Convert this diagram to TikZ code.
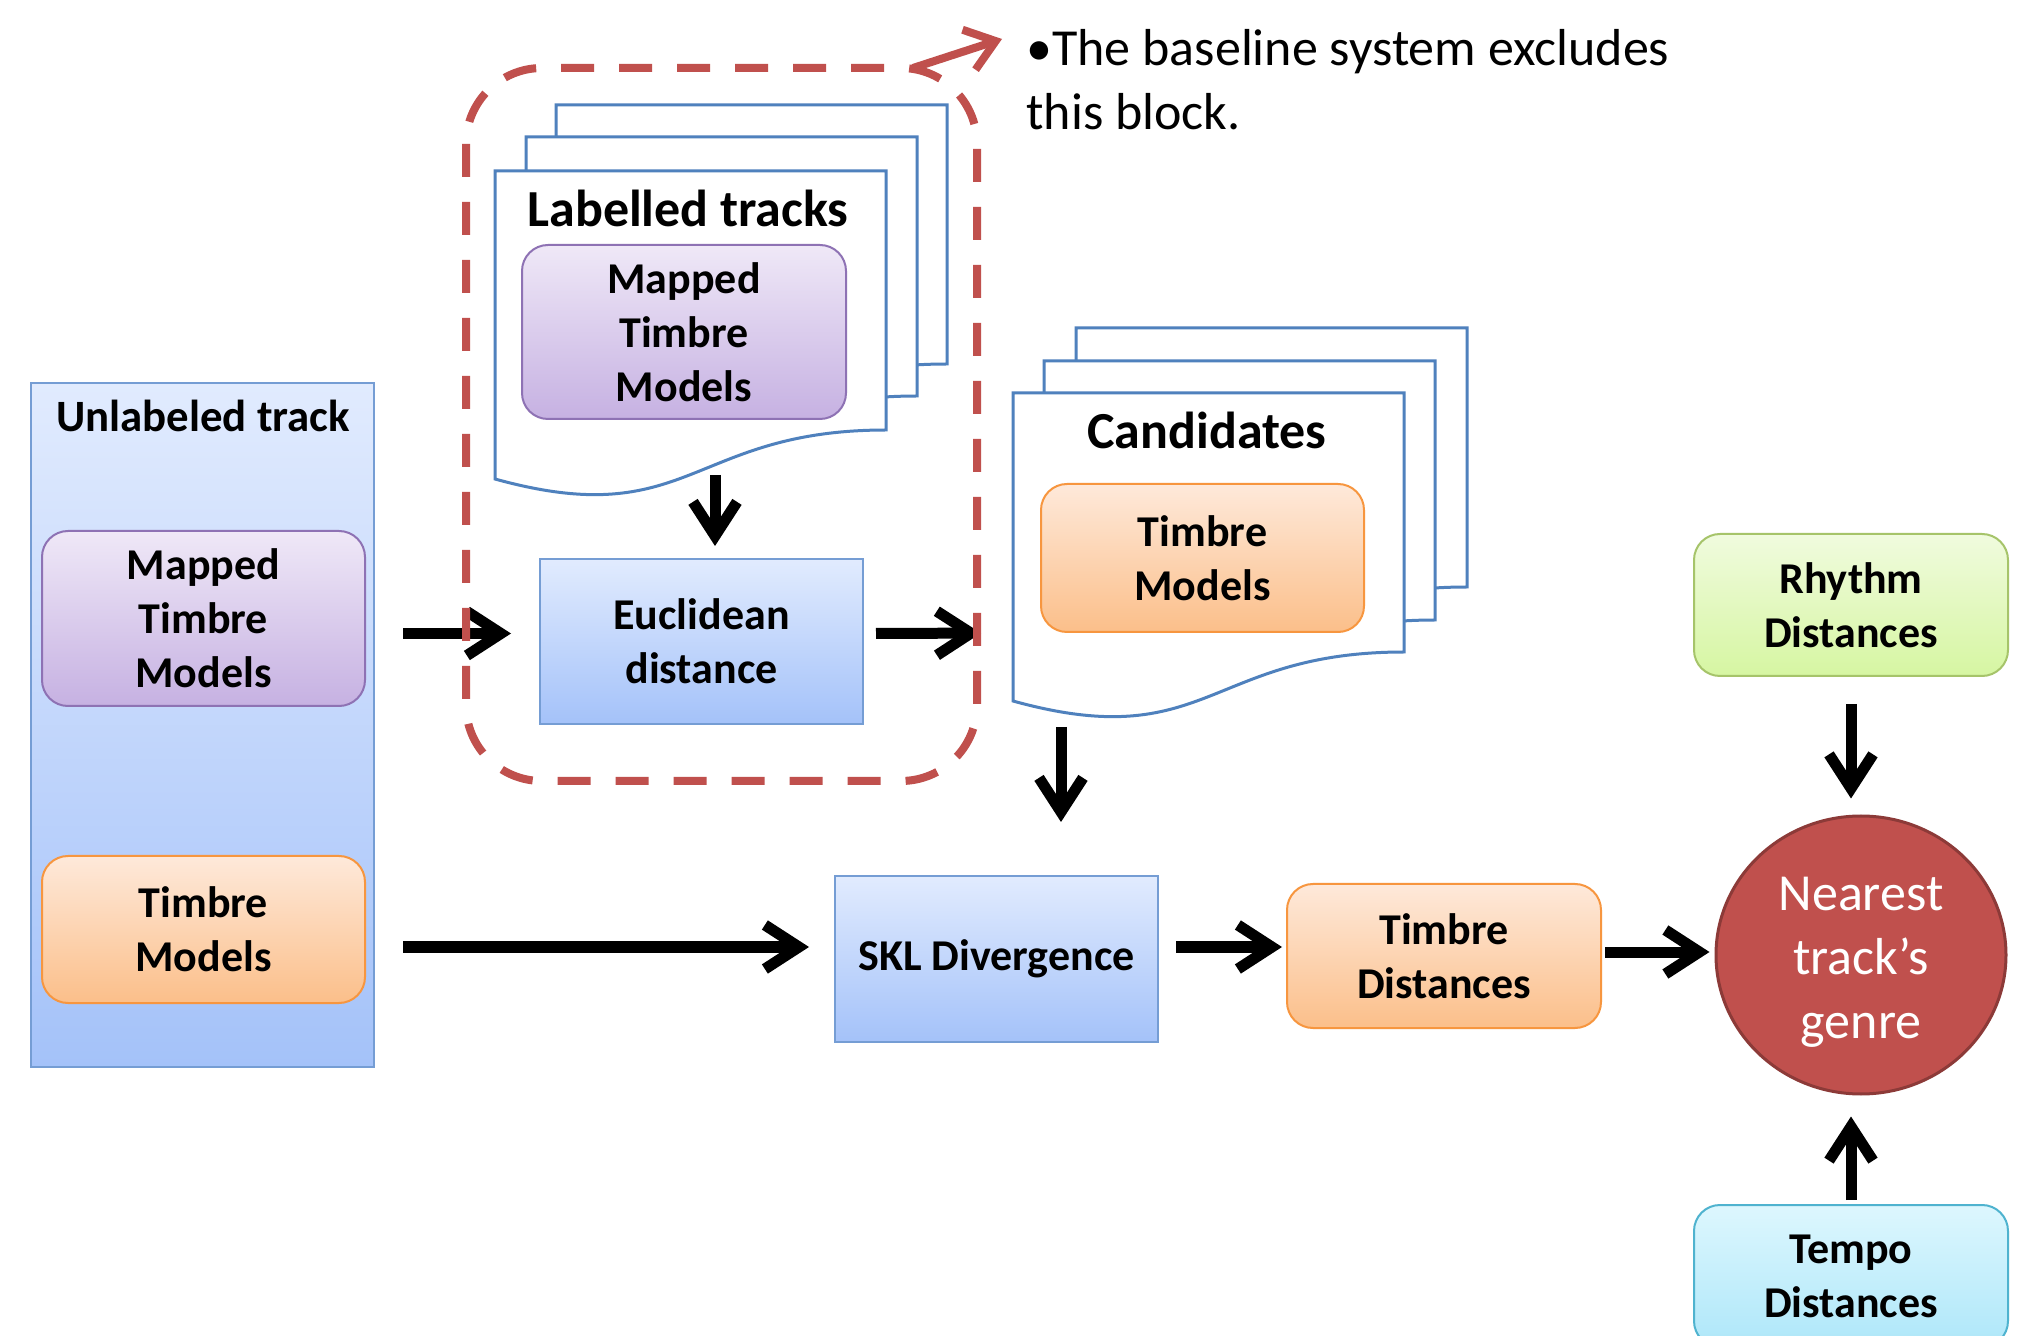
\documentclass[tikz,border=0pt]{standalone}
\usepackage{fontspec}
\setmainfont{Carlito}
\usetikzlibrary{arrows.meta,shapes.geometric,calc}
\definecolor{bluetop}{HTML}{E1EBFE}
\definecolor{bluebot}{HTML}{A4C2F9}
\definecolor{blueborder}{HTML}{759DD4}
\definecolor{purptop}{HTML}{EFE8F7}
\definecolor{purpbot}{HTML}{C6B1E2}
\definecolor{purpborder}{HTML}{8E72B4}
\definecolor{orgtop}{HTML}{FEE9DA}
\definecolor{orgbot}{HTML}{FBBF8A}
\definecolor{orgborder}{HTML}{F7963F}
\definecolor{grntop}{HTML}{F0FBDE}
\definecolor{grnbot}{HTML}{D6F6A2}
\definecolor{grnborder}{HTML}{A6C46A}
\definecolor{cyntop}{HTML}{DDF7FE}
\definecolor{cynbot}{HTML}{AEE7F9}
\definecolor{cynborder}{HTML}{4FB3CF}
\definecolor{redfill}{HTML}{C0504D}
\definecolor{redborder}{HTML}{8C3A38}
\definecolor{sheetblue}{HTML}{4F81BD}
\begin{document}
\begin{tikzpicture}[x=0.5pt,y=-0.5pt,
  boxtext/.style={font=\fontsize{22}{27}\selectfont\bfseries, align=center, inner sep=0pt},
  titletext/.style={font=\fontsize{26}{32}\selectfont\bfseries, inner sep=0pt, anchor=base},
  bluebox/.style={boxtext, draw=blueborder, line width=1pt, top color=bluetop, bottom color=bluebot, minimum width=161.5pt, minimum height=82.5pt},
  rbox/.style={boxtext, rounded corners=13pt, line width=1pt, minimum width=161.5pt},
  purplebox/.style={rbox, draw=purpborder, top color=purptop, bottom color=purpbot},
  orangebox/.style={rbox, draw=orgborder, top color=orgtop, bottom color=orgbot},
  greenbox/.style={rbox, draw=grnborder, top color=grntop, bottom color=grnbot, minimum width=157pt, minimum height=71pt},
  cyanbox/.style={rbox, draw=cynborder, top color=cyntop, bottom color=cynbot, minimum width=157pt, minimum height=71pt},
  arr/.style={line width=5.5pt, -{Straight Barb[length=17pt,width=22pt]}},
  redarr/.style={draw=redfill, line width=4pt, -{Straight Barb[length=14pt,width=21pt]}},
  dashbox/.style={draw=redfill, line width=4pt, dash pattern=on 16.5pt off 12.5pt, rounded corners=38pt},
  sheet/.pic={\path[draw=sheetblue, line width=1.5pt, fill=white]
     (0,0) -- (391,0) -- (391,259) .. controls (195,259) and (195,362) .. (0,308) -- cycle;}
]
\clip (0,0) rectangle (2042,1336);
\fill[white] (0,0) rectangle (2042,1336);

% Unlabeled track column
\node[bluebox, minimum width=171.5pt, minimum height=342pt] (unl) at (202.5,725) {};
\node[titletext, font=\fontsize{22.4}{27}\selectfont\bfseries] (unltitle) at (203,432) {Unlabeled track};
\node[purplebox, minimum height=87.5pt] (unlmtm) at (203.5,618.5) {Mapped\\Timbre\\Models};
\node[orangebox, minimum height=73.5pt] (unltm) at (203.5,929.5) {Timbre\\Models};

% Labelled tracks stack
\pic at (556,105) {sheet};
\pic at (526,137) {sheet};
\pic at (495,171) {sheet};
\node[titletext] (labtitle) at (688,227) {Labelled tracks};
\node[purplebox, minimum width=162pt, minimum height=87pt] (labmtm) at (684,332) {Mapped\\Timbre\\Models};
\coordinate (labs) at (715,475);

% Euclidean distance
\node[bluebox] (euc) at (701.5,641.5) {Euclidean\\distance};

% Candidates stack
\pic at (1076,328) {sheet};
\pic at (1044,361) {sheet};
\pic at (1013,393) {sheet};
\node[titletext] (candtitle) at (1207,449) {Candidates};
\node[orangebox, minimum height=74pt] (candtm) at (1202.5,558) {Timbre\\Models};
\coordinate (candw) at (1013,633);
\coordinate (cands) at (1061,727);

% Lower row
\node[bluebox, minimum height=83pt] (skl) at (996.5,959) {SKL Divergence};
\node[orangebox, minimum width=157pt, minimum height=72pt] (td) at (1444,956) {Timbre\\Distances};
\node[ellipse, fill=redfill, draw=redborder, line width=1.5pt, minimum width=145pt, minimum height=139pt, inner sep=0pt] (circ) at (1861,955) {};
\node[text=white, font=\fontsize{26}{32}\selectfont, align=center, inner sep=0pt] (circlbl) at (1861,962) {Nearest\\track’s\\genre};
\node[greenbox] (rhy) at (1851,605) {Rhythm\\Distances};
\node[cyanbox] (tmp) at (1851,1276) {Tempo\\Distances};

% Arrows
\draw[arr, shorten <=14pt, shorten >=14pt] ($(euc.west -| unl.east)+(0,-8)$) -- ($(euc.west)+(0,-8)$);
\draw[arr, shorten <=6pt, shorten >=16pt] ($(euc.east)+(0,-8)$) -- (candw);
\draw[arr, shorten >=6pt] (labs) -- (labs |- euc.north);
\draw[arr, shorten >=26.5pt] (cands) -- (cands |- skl.north);
\coordinate (a5) at ($(skl.west -| unl.east)+(0,-12)$);
\draw[arr, shorten <=14pt, shorten >=12.5pt] (a5) -- (a5 -| skl.west);
\coordinate (a6) at ($(skl.east)+(0,-12)$);
\draw[arr, shorten <=8.5pt, shorten >=2pt] (a6) -- (a6 -| td.west);
\coordinate (a7) at ($(td.east)+(0,-4)$);
\draw[arr, shorten <=1.5pt, shorten >=2.5pt] (a7) -- (a7 -| circ.west);
\draw[arr, shorten <=13.5pt, shorten >=8pt] (rhy.south) -- (rhy.south |- circ.north);
\draw[arr, shorten <=2pt, shorten >=10.5pt] (tmp.north) -- (tmp.north |- circ.south);

% Dashed block
\draw[dashbox] (466,68) rectangle (977,781);
\coordinate (dashtr) at (913,68);
\coordinate (notept) at (1002,39);
\draw[redarr] (dashtr) -- (notept);

% Note
\node[anchor=base west, font=\fontsize{26}{32}\selectfont, align=left, inner sep=0pt] (note) at (1026,130) {•The baseline system excludes\\this block.};
\end{tikzpicture}
\end{document}
